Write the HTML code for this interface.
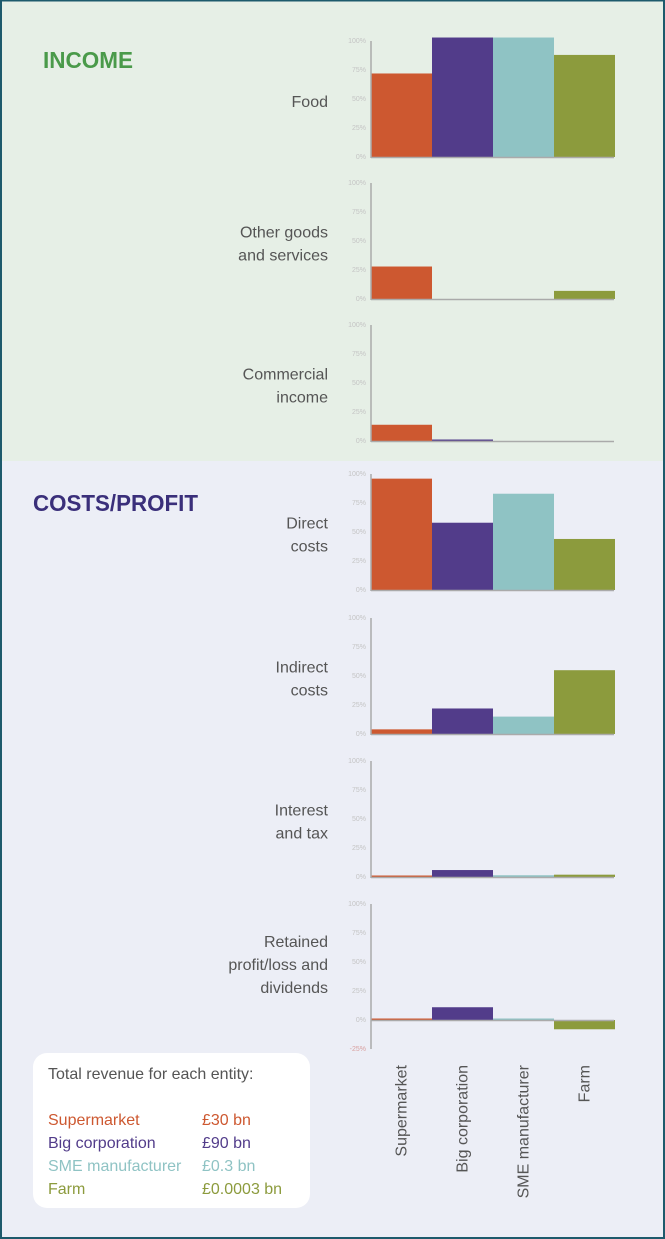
<!DOCTYPE html>
<html><head><meta charset="utf-8"><style>
body{margin:0;width:665px;height:1239px;overflow:hidden;font-family:"Liberation Sans",sans-serif}
svg{display:block}
</style></head><body>
<svg id="chart" width="665" height="1239" xmlns="http://www.w3.org/2000/svg">
<rect x="0" y="0" width="665" height="461" fill="#e6efe6"/>
<rect x="0" y="461" width="665" height="778" fill="#eceef6"/>
<rect x="1" y="0.5" width="663" height="1237.5" fill="none" stroke="#1d5a6c" stroke-width="2"/>
<text x="43" y="68" font-size="23" font-weight="bold" fill="#4a9a4a" textLength="90" lengthAdjust="spacingAndGlyphs">INCOME</text>
<text x="33" y="511" font-size="23" font-weight="bold" fill="#3a2f7a" textLength="165" lengthAdjust="spacingAndGlyphs">COSTS/PROFIT</text>
<g id="panels"></g>
<g id="cats"></g>
<rect x="33" y="1053" width="277" height="155" rx="14" fill="#fff"/>
<text x="48" y="1079" font-size="16" fill="#555">Total revenue for each entity:</text>
<g id="legend" font-size="16"></g>
</svg>
<script>
const categories=["Supermarket","Big corporation","SME manufacturer","Farm"];
const colors=["#cd5830","#523c8a","#8fc3c4","#8c9b3d"];
const revenues=["£30 bn","£90 bn","£0.3 bn","£0.0003 bn"];
const panelLabels=[["Food"],["Other goods","and services"],["Commercial","income"],["Direct","costs"],["Indirect","costs"],["Interest","and tax"],["Retained","profit/loss and","dividends"]];
const food=[72,103,103,88];
const otherGoods=[28,0,0,7];
const commercial=[14,0.6,0,0];
const directCosts=[96,58,83,44];
const indirectCosts=[4,22,15,55];
const interestTax=[1,6,1.5,2];
const retained=[1,11,1,-8];
const seriesList=[food,otherGoods,commercial,directCosts,indirectCosts,interestTax,retained];
const ticks=[0,25,50,75,100];
const NS="http://www.w3.org/2000/svg";
const zeroYs=[157,299,441,590,734,877,1020];
const pxPer=116/100, x0=371, bw=61;
function mk(t,a,p){const e=document.createElementNS(NS,t);for(const k in a)e.setAttribute(k,a[k]);p.appendChild(e);return e;}
const panels=document.getElementById('panels');
seriesList.forEach((vals,pi)=>{
  const z=zeroYs[pi]; const y=v=>z-v*pxPer;
  const g=mk('g',{},panels);
  
  
  const tk=pi===6?[-25].concat(ticks):ticks;
  tk.forEach(t=>{const tx=mk('text',{x:366,y:y(t)+2,'font-size':7,'text-anchor':'end',fill:t<0?'#d9a0a0':'#c4c4c4'},g);tx.textContent=t+'%';
    });
  vals.forEach((v,i)=>{
    if(v===0) return;
    const hh=Math.abs(v*pxPer), h=Math.max(hh,1.5);
    const yy=v<0?z:z-h;
    const r=mk('rect',{x:x0+i*bw,y:yy,width:bw,height:h,fill:colors[i]},g);
    
    });
  const bl=mk('line',{x1:371,x2:614,y1:z+0.5,y2:z+0.5,stroke:'#aaa','stroke-width':1.5},g);
  
  const ax=mk('line',{x1:371,x2:371,y1:y(100),y2:pi===6?y(-25):z+1,stroke:'#aaa','stroke-width':1.5},g);
  
  const L=panelLabels[pi]; const cy=y(50)+8-(L.length-1)*11.5;
  L.forEach((s,k)=>{const t=mk('text',{x:328,y:cy+k*23,'font-size':16,'text-anchor':'end',fill:'#555'},g);t.textContent=s;
    });
});
const cats=document.getElementById('cats');
categories.forEach((c,i)=>{const cx=x0+i*bw+bw/2+5;
  const t=mk('text',{x:0,y:0,'font-size':16,'text-anchor':'end',fill:'#555',transform:`translate(${cx},1065) rotate(-90)`},cats);t.textContent=c;
  });
const lg=document.getElementById('legend');
categories.forEach((c,i)=>{const yy=1125+i*23;
  const a=mk('text',{x:48,y:yy,fill:colors[i]},lg);a.textContent=c;
  
  const b=mk('text',{x:202,y:yy,fill:colors[i]},lg);b.textContent=revenues[i];
  });
</script>
</body></html>
